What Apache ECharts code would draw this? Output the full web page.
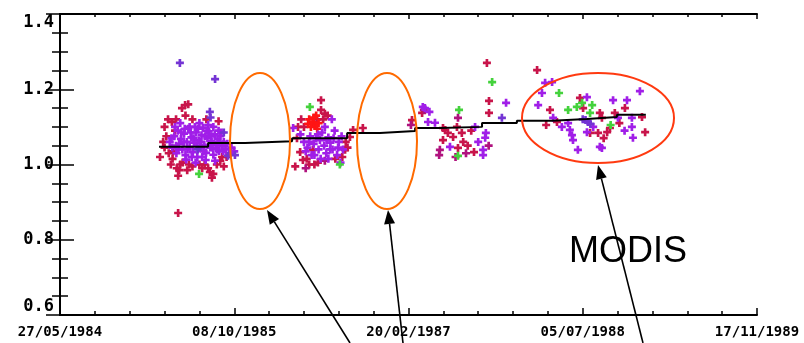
<!DOCTYPE html>
<html>
<head>
<meta charset="utf-8">
<script src="https://cdn.jsdelivr.net/npm/echarts@6/dist/echarts.min.js"></script>
<style>
  html, body { margin: 0; padding: 0; background: #fff; }
  #chart { width: 804px; height: 343px; }
</style>
</head>
<body>
<div id="chart"></div>
<script>
// x values are days since 27/05/1984
const dateLabels = ['27/05/1984', '08/10/1985', '20/02/1987', '05/07/1988', '17/11/1989'];

const crimsonPts = [
  [287, 1.02], [321, 1.113], [350, 1.15], [359, 1.158], [368, 1.16], [330, 1.09], [325, 1.035],
  [318, 1.0], [335, 0.99], [339, 0.97], [342, 0.985], [352, 1.005], [370, 1.0], [380, 0.995],
  [425, 0.99], [430, 0.98], [436, 0.965], [440, 0.975], [415, 1.0], [460, 1.01], [470, 0.995],
  [339, 0.871], [305, 1.075], [310, 1.12], [380, 1.12], [455, 1.115], [300, 1.045], [478, 1.02],
  [312, 1.03], [323, 1.015], [345, 1.0], [365, 0.985], [400, 1.0], [408, 0.99], [450, 1.0],
  [465, 1.02], [333, 1.12], [360, 1.13], [420, 1.12], [300, 1.1], [296, 1.06],
  [749, 1.171], [749, 1.145], [760, 1.135], [738, 1.12], [700, 1.1], [692, 1.12], [680, 1.07],
  [697, 1.012], [726, 1.039], [689, 1.033], [818, 1.039], [832, 1.073], [841, 1.092], [869, 1.097],
  [715, 1.0], [740, 1.005], [790, 1.015], [820, 1.06], [675, 0.995],
  [708, 1.015], [730, 1.0], [755, 1.12], [768, 1.13], [683, 1.1], [810, 1.02], [825, 1.045],
  [1225, 1.27], [1231, 1.169], [1231, 1.137], [1188, 1.033], [1139, 1.1], [1128, 1.073],
  [1153, 1.084], [1157, 1.06], [1142, 1.044], [1099, 1.065], [1105, 1.092], [1010, 1.118],
  [1039, 1.137], [1099, 1.097], [1113, 1.084], [1170, 1.05], [1180, 1.09],
  [1369, 1.251], [1406, 1.145], [1426, 1.113], [1492, 1.177], [1501, 1.15], [1549, 1.137],
  [1555, 1.124], [1544, 1.084], [1570, 1.086], [1578, 1.097], [1621, 1.15], [1592, 1.137],
  [1670, 1.126], [1679, 1.086], [1521, 1.084], [1395, 1.105], [1560, 1.07], [1605, 1.11]
];

const purplePts = [
  [315, 1.06], [322, 1.045], [328, 1.075], [334, 1.03], [338, 1.09], [342, 1.055], [347, 1.068],
  [351, 1.04], [356, 1.082], [360, 1.025], [364, 1.06], [368, 1.095], [372, 1.047], [377, 1.072],
  [381, 1.033], [385, 1.058], [390, 1.085], [394, 1.02], [398, 1.064], [402, 1.043], [406, 1.078],
  [410, 1.098], [414, 1.052], [419, 1.031], [423, 1.07], [427, 1.088], [431, 1.045], [435, 1.062],
  [440, 1.026], [444, 1.08], [448, 1.052], [452, 1.068], [456, 1.036], [460, 1.075], [465, 1.048],
  [470, 1.06], [475, 1.04], [480, 1.055], [485, 1.03], [492, 1.045], [500, 1.035], [330, 1.1],
  [345, 1.11], [372, 1.1], [400, 1.11], [425, 1.105], [440, 1.1], [455, 1.09], [362, 1.013],
  [389, 1.005], [418, 1.012], [445, 1.01],
  [320, 1.07], [333, 1.05], [340, 1.04], [348, 1.085], [355, 1.06], [366, 1.04], [375, 1.085],
  [383, 1.07], [392, 1.05], [396, 1.095], [404, 1.06], [412, 1.035], [416, 1.075], [421, 1.09],
  [433, 1.075], [437, 1.045], [450, 1.04], [458, 1.06], [463, 1.085], [468, 1.035], [378, 1.02],
  [358, 1.095], [387, 1.1], [408, 1.02],
  [669, 1.097], [700, 1.06], [710, 1.045], [718, 1.075], [728, 1.055], [735, 1.07], [742, 1.04],
  [746, 1.065], [752, 1.085], [758, 1.05], [764, 1.03], [770, 1.072], [776, 1.058], [782, 1.04],
  [788, 1.09], [795, 1.025], [800, 1.06], [812, 1.04], [690, 1.08], [722, 1.025], [760, 1.1],
  [780, 1.12], [805, 1.005], [770, 1.015],
  [705, 1.035], [730, 1.025], [748, 1.015], [765, 1.065], [775, 1.04], [785, 1.07], [798, 1.045],
  [808, 1.075], [715, 1.06], [740, 1.08],
  [1280, 1.164], [1222, 1.084], [1220, 1.071], [1214, 1.039], [1214, 1.025], [1119, 1.047],
  [1191, 1.1], [1056, 1.113], [1076, 1.111], [1047, 1.15], [1041, 1.153], [1060, 1.14], [1200, 1.06],
  [1392, 1.217], [1412, 1.219], [1383, 1.19], [1372, 1.158], [1415, 1.124], [1458, 1.11],
  [1463, 1.092], [1469, 1.078], [1472, 1.065], [1486, 1.039], [1555, 1.044], [1512, 1.179],
  [1587, 1.171], [1627, 1.171], [1601, 1.124], [1641, 1.124], [1641, 1.1], [1664, 1.195],
  [1644, 1.071], [1549, 1.047], [1512, 1.086], [1440, 1.1], [1530, 1.1], [1620, 1.09]
];

const violetPts = [
  [344, 1.27], [445, 1.227], [430, 1.14], [432, 1.125], [482, 1.023], [502, 1.025], [470, 1.085],
  [395, 1.04], [1268, 1.124], [1515, 1.113], [1508, 1.118], [1522, 1.108], [1500, 1.12]
];

const magentaPts = [
  [1142, 1.124], [1090, 1.039], [1088, 1.025], [1044, 1.145], [1007, 1.105], [1230, 1.05],
  [1165, 1.03], [1135, 1.02], [705, 0.99], [760, 1.01]
];

const redPts = [
  [715, 1.12], [725, 1.113], [732, 1.105], [720, 1.1], [735, 1.13], [742, 1.11],
  [728, 1.125], [712, 1.108], [738, 1.095]
];

const greenPts = [
  [399, 0.975], [717, 1.153], [803, 1.0], [1240, 1.219], [1145, 1.145], [1142, 1.023],
  [1432, 1.19], [1458, 1.145], [1483, 1.153], [1498, 1.164], [1527, 1.158], [1521, 1.137], [1580, 1.105]
];

const trendDays = [284, 425, 531, 666, 824, 918, 1019, 1090, 1211, 1311, 1412, 1512, 1598, 1681];
const trendVals = [1.047, 1.057, 1.062, 1.07, 1.084, 1.089, 1.097, 1.1, 1.11, 1.116, 1.121, 1.126, 1.132, 1.132];

const chart = echarts.init(document.getElementById('chart'));

const plus = 'path://M3,0h3v3h3v3h-3v3h-3v-3h-3v-3h3z';

function pts(data, color) {
  return {
    type: 'scatter',
    data,
    symbol: plus,
    symbolSize: 8,
    itemStyle: { color, opacity: 1 },
    silent: true
  };
}

const axisLine = { show: true, lineStyle: { color: '#000', width: 2 } };

function arrow(tip, tail) {
  const dx = tail[0] - tip[0], dy = tail[1] - tip[1];
  const len = Math.sqrt(dx * dx + dy * dy);
  const ux = dx / len, uy = dy / len;
  const hl = 14, hw = 5.5;
  const bx = tip[0] + ux * hl, by = tip[1] + uy * hl;
  return [
    {
      type: 'line',
      shape: { x1: bx, y1: by, x2: tail[0], y2: tail[1] },
      style: { stroke: '#000', lineWidth: 1.6 },
      z: 100
    },
    {
      type: 'polygon',
      shape: { points: [tip, [bx - uy * hw, by + ux * hw], [bx + uy * hw, by - ux * hw]] },
      style: { fill: '#000' },
      z: 100
    }
  ];
}

const option = {
  animation: false,
  backgroundColor: '#fff',
  grid: { left: 60, right: 47, top: 14, bottom: 28 },
  xAxis: [
    {
      type: 'value',
      min: 0,
      max: 2000,
      interval: 500,
      axisLine,
      axisTick: { show: true, inside: true, length: 7, lineStyle: { color: '#000', width: 1.5 } },
      minorTick: { show: true, splitNumber: 5, length: 4, lineStyle: { color: '#000', width: 1.5 } },
      splitLine: { show: false },
      axisLabel: {
        margin: 10,
        color: '#000',
        fontFamily: 'DejaVu Sans Mono',
        fontWeight: 'bold',
        fontSize: 14,
        formatter: v => dateLabels[Math.round(v / 500)]
      }
    },
    {
      type: 'value',
      position: 'top',
      min: 0,
      max: 2000,
      interval: 500,
      axisLine,
      axisTick: { show: true, inside: true, length: 5, lineStyle: { color: '#000', width: 1.5 } },
      minorTick: { show: true, splitNumber: 5, length: 3, lineStyle: { color: '#000', width: 1.5 } },
      splitLine: { show: false },
      axisLabel: { show: false }
    }
  ],
  yAxis: [
    {
      type: 'value',
      min: 0.6,
      max: 1.4,
      interval: 0.2,
      axisLine,
      axisTick: { show: true, inside: true, length: 14, lineStyle: { color: '#000', width: 1.5 } },
      minorTick: { show: true, splitNumber: 4, length: 8, lineStyle: { color: '#000', width: 1.5 } },
      splitLine: { show: false },
      axisLabel: {
        margin: 6,
        color: '#000',
        fontFamily: 'DejaVu Sans Mono',
        fontWeight: 'bold',
        fontSize: 17,
        verticalAlignMinLabel: 'bottom',
        verticalAlignMaxLabel: 'top',
        formatter: v => v.toFixed(1)
      }
    },
    {
      type: 'value',
      position: 'right',
      min: 0.6,
      max: 1.4,
      interval: 0.2,
      axisLine,
      axisTick: { show: true, inside: true, length: 14, lineStyle: { color: '#000', width: 1.5 } },
      minorTick: { show: true, splitNumber: 4, length: 8, lineStyle: { color: '#000', width: 1.5 } },
      splitLine: { show: false },
      axisLabel: { show: false }
    }
  ],
  series: [
    pts(crimsonPts, '#c8144a'),
    pts(magentaPts, '#b0127e'),
    pts(redPts, '#ff1414'),
    pts(purplePts, '#a01ee8'),
    pts(violetPts, '#7434d4'),
    pts(greenPts, '#44d23c'),
    {
      type: 'line',
      data: trendDays.map((d, i) => [d, trendVals[i]]),
      step: 'end',
      symbol: 'none',
      lineStyle: { color: '#000', width: 2 },
      z: 5,
      silent: true
    }
  ],
  graphic: [
    {
      type: 'ellipse',
      shape: { cx: 260, cy: 141, rx: 30, ry: 68 },
      style: { fill: 'none', stroke: '#ff6a00', lineWidth: 2 },
      z: 90
    },
    {
      type: 'ellipse',
      shape: { cx: 387, cy: 141, rx: 30, ry: 68 },
      style: { fill: 'none', stroke: '#ff6a00', lineWidth: 2 },
      z: 90
    },
    {
      type: 'ellipse',
      shape: { cx: 598, cy: 118, rx: 76, ry: 45 },
      style: { fill: 'none', stroke: '#ff3a10', lineWidth: 2 },
      z: 90
    },
    ...arrow([267, 210], [350, 343]),
    ...arrow([388, 210], [403, 343]),
    ...arrow([598, 165], [643, 343]),
    {
      type: 'text',
      left: 569,
      top: 234,
      style: {
        text: 'MODIS',
        fill: '#000',
        font: '36px "Liberation Sans", Arial, sans-serif'
      },
      z: 100
    }
  ]
};

chart.setOption(option);
</script>
</body>
</html>
